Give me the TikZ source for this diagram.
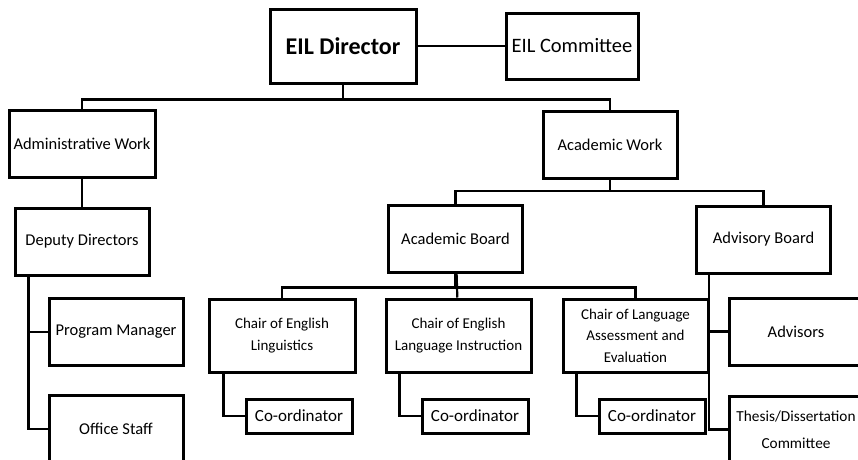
\documentclass[tikz,border=0pt]{standalone}
\usepackage{fontspec}
\setmainfont{Carlito}
\usetikzlibrary{positioning}

\begin{document}
\begin{tikzpicture}[x=1pt,y=-1pt,line width=2.2pt]
	\tikzstyle{rect}=[draw, rectangle, line width=3pt, minimum width=134pt, minimum height=67pt, align=center, font=\fontsize{16.5}{27}\selectfont]
	\tikzstyle{rect_b}=[rect, minimum width=146pt]
	\tikzstyle{rect_chair}=[rect, minimum width=145pt, minimum height=73pt, font=\fontsize{15}{21.5}\selectfont]
	\tikzstyle{rect_small}=[rect, minimum width=106pt, minimum height=34pt, font=\fontsize{17}{20}\selectfont]

	\useasboundingbox (0,0) rectangle (858,459);
	\clip (0,0) rectangle (858,459);

	\node[rect_b, minimum height=74pt, font=\fontsize{24}{28}\selectfont\bfseries] (dir) at (343,46) {EIL Director};
	\node[rect, minimum width=132pt, minimum height=66pt, font=\fontsize{20.5}{24}\selectfont] (comm) [right=87pt of dir] {EIL Committee};

	\node[rect_b] (adm) at (82,143.5) {Administrative Work};
	\node[rect] (acad) at (610,145) {Academic Work};

	\node[rect] (dep) [below=28pt of adm] {Deputy Directors};
	\node[rect] (pm) at (116,332) {Program Manager};
	\node[rect] (off) [below=27pt of pm] {Office Staff};

	\node[rect] (aboard) at (455.5,238.5) {Academic Board};
	\node[rect] (advb) at (763.5,239.5) {Advisory Board};

	\node[rect_chair, minimum width=146pt] (ch1) at (282,335.5) {Chair of English\\Linguistics};
	\node[rect_chair] (ch2) [right=28pt of ch1] {Chair of English\\Language Instruction};
	\node[rect_chair] (ch3) [right=29pt of ch2] {Chair of Language\\Assessment and\\Evaluation};

	\node[rect_small] (co1) at (299,416) {Co-ordinator};
	\node[rect_small] (co2) [right=67pt of co1] {Co-ordinator};
	\node[rect_small] (co3) [right=68pt of co2] {Co-ordinator};

	\node[rect] (advs) at (796,331.5) {Advisors};
	\node[rect, font=\fontsize{15.3}{27}\selectfont] (thes) [below=28pt of advs] {Thesis/Dissertation\\Committee};

	\draw (dir) -- (comm);

	\coordinate[shift={(0,-15pt)}] (j1) at (dir.south);
	\draw (dir.south) -- (j1) -| (adm.north);
	\draw (j1) -| (acad.north);

	\draw (adm) -- (dep);
	\coordinate[shift={(15pt,0)}] (d1) at (dep.south west);
	\draw (d1) |- (pm.west);
	\draw (d1) |- (off.west);

	\coordinate[shift={(0,-11pt)}] (j2) at (acad.south);
	\draw (acad.south) -- (j2) -| (aboard.north);
	\draw (j2) -| (advb.north);

	\coordinate[shift={(0,-14pt)}] (j3) at (aboard.south);
	\draw (aboard.south) -- (j3) -| (ch1.north);
	\draw (j3) -| (ch3.north);
	\draw (aboard) -- (ch2);

	\coordinate[shift={(16pt,0)}] (c1) at (ch1.south west);
	\coordinate[shift={(15pt,0)}] (c2) at (ch2.south west);
	\coordinate[shift={(15pt,0)}] (c3) at (ch3.south west);
	\draw (c1) |- (co1.west);
	\draw (c2) |- (co2.west);
	\draw (c3) |- (co3.west);

	\coordinate[shift={(14pt,0)}] (a1) at (advb.south west);
	\draw (a1) |- (advs.west);
	\draw (a1) |- (thes.west);
\end{tikzpicture}
\end{document}
